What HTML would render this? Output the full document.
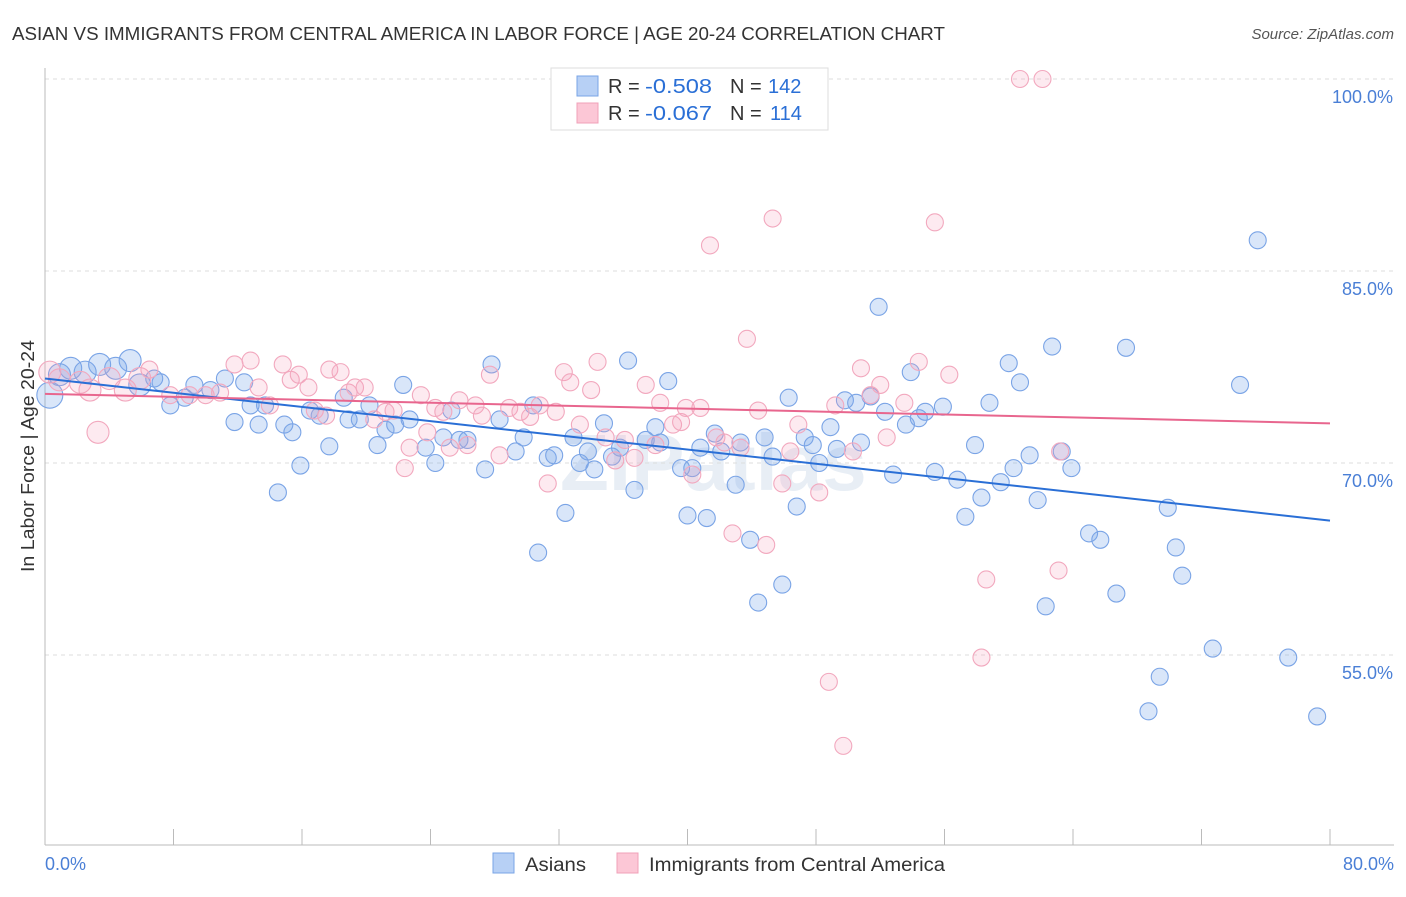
<!DOCTYPE html>
<html><head><meta charset="utf-8"><style>
body{margin:0;background:#fff;font-family:"Liberation Sans",sans-serif;}
svg text{font-family:"Liberation Sans",sans-serif;}
</style></head><body>
<svg id="chart" width="1406" height="892">
<text x="12" y="40" font-size="18" fill="#333" textLength="933" lengthAdjust="spacingAndGlyphs">ASIAN VS IMMIGRANTS FROM CENTRAL AMERICA IN LABOR FORCE | AGE 20-24 CORRELATION CHART</text>
<text x="1394" y="39" font-size="15" fill="#555" font-style="italic" text-anchor="end">Source: ZipAtlas.com</text>
<text x="560" y="490" font-size="80" fill="#e8eef5" font-weight="bold">ZIPatlas</text>
<g id="grid"></g><g id="pts"></g><g id="trends"></g>
<text transform="translate(34,456) rotate(-90)" font-size="18" fill="#333" text-anchor="middle" textLength="232" lengthAdjust="spacingAndGlyphs">In Labor Force | Age 20-24</text>
<g>
<rect x="551" y="68" width="277" height="62" fill="#fff" stroke="#ddd"/>
<rect x="577" y="76" width="21" height="20" fill="#b7d0f5" stroke="#7aa4e6"/>
<rect x="577" y="103" width="21" height="20" fill="#fcc7d6" stroke="#f0a0b8"/>
<text x="608" y="93" font-size="20" fill="#333">R =</text>
<text x="645" y="93" font-size="20" fill="#2a6fd6" textLength="67" lengthAdjust="spacingAndGlyphs">-0.508</text>
<text x="730" y="93" font-size="20" fill="#333">N =</text>
<text x="768" y="93" font-size="20" fill="#2a6fd6">142</text>
<text x="608" y="120" font-size="20" fill="#333">R =</text>
<text x="645" y="120" font-size="20" fill="#2a6fd6" textLength="67" lengthAdjust="spacingAndGlyphs">-0.067</text>
<text x="730" y="120" font-size="20" fill="#333">N =</text>
<text x="770" y="120" font-size="20" fill="#2a6fd6">114</text>
</g>
<g>
<rect x="493" y="853" width="21" height="20" fill="#b7d0f5" stroke="#7aa4e6"/>
<text x="525" y="871" font-size="19" fill="#333" textLength="61" lengthAdjust="spacingAndGlyphs">Asians</text>
<rect x="617" y="853" width="21" height="20" fill="#fcc7d6" stroke="#f0a0b8"/>
<text x="649" y="871" font-size="19" fill="#333" textLength="296" lengthAdjust="spacingAndGlyphs">Immigrants from Central America</text>
</g>
</svg>
<script>
const xTicks=[0,10,20,30,40,50,60,70,80];
const yTicks=[55,70,85,100];
const yTickLabels=["55.0%","70.0%","85.0%","100.0%"];
const asiansX=[0.3,1.6,0.9,2.5,3.4,5.3,4.4,6.8,7.2,5.9,7.8,8.7,9.3,10.3,11.2,11.8,12.4,12.8,13.3,13.7,14.9,15.4,15.9,14.5,16.5,17.1,17.7,18.6,18.9,19.6,20.2,20.7,21.2,21.8,22.3,22.7,23.7,24.3,24.8,25.3,25.8,26.3,27.4,27.8,28.3,29.3,29.8,30.4,30.7,31.3,31.7,32.4,32.9,33.3,33.8,34.2,34.8,35.3,35.8,36.3,36.7,37.4,38.0,38.3,38.8,39.6,40.0,40.3,40.8,41.2,41.7,42.1,43.0,43.3,43.9,44.4,44.8,45.3,45.9,46.3,46.8,47.3,47.8,48.2,48.9,49.3,49.8,50.5,50.8,51.4,51.9,52.3,52.8,53.6,53.9,54.4,54.8,55.4,55.9,56.8,57.3,57.9,58.3,58.8,59.5,60.0,60.3,60.7,61.3,61.8,62.3,62.7,63.3,63.9,65.0,65.7,66.7,67.3,68.7,69.4,69.9,70.4,70.8,72.7,74.4,75.5,77.4,79.2];
const asiansY=[75.3,77.4,76.9,77.1,77.7,78.0,77.4,76.6,76.3,76.1,74.5,75.1,76.1,75.7,76.6,73.2,76.3,74.5,73.0,74.5,73.0,72.4,69.8,67.7,74.1,73.7,71.3,75.1,73.4,73.4,74.5,71.4,72.6,73.0,76.1,73.4,71.2,70.0,72.0,74.1,71.8,71.8,69.5,77.7,73.4,70.9,72.0,74.5,63.0,70.4,70.6,66.1,72.0,70.0,70.9,69.5,73.1,70.5,71.2,78.0,67.9,71.8,72.8,71.6,76.4,69.6,65.9,69.6,71.2,65.7,72.3,70.9,68.3,71.6,64.0,59.1,72.0,70.5,60.5,75.1,66.6,72.0,71.4,70.0,72.8,71.1,74.9,74.7,71.6,75.2,82.2,74.0,69.1,73.0,77.1,73.5,74.0,69.3,74.4,68.7,65.8,71.4,67.3,74.7,68.5,77.8,69.6,76.3,70.6,67.1,58.8,79.1,70.9,69.6,64.5,64.0,59.8,79.0,50.6,53.3,66.5,63.4,61.2,55.5,76.1,87.4,54.8,50.2];
const immX=[0.3,0.9,2.2,2.8,3.3,4.0,5.0,5.9,6.5,7.8,9.0,10.0,10.9,11.8,12.8,13.3,14.0,14.8,15.3,15.8,16.4,16.8,17.5,17.7,18.4,18.9,19.3,19.9,20.5,21.2,21.7,22.4,22.7,23.4,23.8,24.3,24.8,25.2,25.8,26.3,26.8,27.2,27.7,28.3,28.9,29.6,30.2,30.8,31.3,31.8,32.3,32.7,33.3,34.0,34.4,34.9,35.5,36.1,36.7,37.4,38.0,38.3,39.1,39.6,39.9,40.3,40.8,41.4,41.8,42.3,42.8,43.3,43.7,44.4,44.9,45.3,45.9,46.4,46.9,47.5,47.9,48.2,48.8,49.2,49.7,50.3,50.8,51.4,52.0,52.4,53.5,54.4,55.4,56.3,58.3,58.6,60.7,62.1,63.1,63.2];
const immY=[77.1,76.5,76.3,75.7,72.4,76.6,75.7,76.6,77.3,75.3,75.3,75.3,75.5,77.7,78.0,75.9,74.5,77.7,76.5,76.9,75.9,74.1,73.7,77.3,77.1,75.5,75.9,75.9,73.4,74.0,74.1,69.6,71.2,75.3,72.4,74.3,74.0,71.2,74.9,71.4,74.5,73.7,76.9,70.6,74.3,74.0,73.6,74.5,68.4,74.0,77.1,76.3,73.0,75.7,77.9,72.0,70.2,71.8,70.4,76.1,71.4,74.7,73.0,73.2,74.3,69.1,74.3,87.0,72.0,71.6,64.5,71.2,79.7,74.1,63.6,89.1,68.4,70.9,73.0,100,100,67.7,52.9,74.5,47.9,70.9,77.4,75.3,76.1,72.0,74.7,77.9,88.8,76.9,54.8,60.9,100,100,61.6,70.9];
const trendAsians=[76.6,65.5];
const trendImm=[75.4,73.1];
const NS="http://www.w3.org/2000/svg";
const X=v=>45+v/80*1285, Y=v=>79+(100-v)*12.8;
function mk(p,t,a){const e=document.createElementNS(NS,t);for(const k in a)e.setAttribute(k,a[k]);p.appendChild(e);return e;}
const g=document.getElementById('grid');
yTicks.forEach((t,i)=>{const l=mk(g,'line',{x1:45,x2:1394,y1:Y(t),y2:Y(t),stroke:'#ddd','stroke-dasharray':'4,4'});


const tx=mk(g,'text',{x:1393,y:Y(t)+24,'font-size':18,fill:'#4a7fd6','text-anchor':'end'});tx.textContent=yTickLabels[i];

});
mk(g,'line',{x1:45,x2:45,y1:68,y2:845,stroke:'#bbb'});
mk(g,'line',{x1:45,x2:1394,y1:845,y2:845,stroke:'#bbb'});
for(let i=0;i<=10;i++){const x=X(i*8);mk(g,'line',{x1:x,x2:x,y1:829,y2:845,stroke:'#bbb'});}
const t0=mk(g,'text',{x:45,y:870,'font-size':18,fill:'#4a7fd6'});t0.textContent='0.0%';


const t1=mk(g,'text',{x:1394,y:870,'font-size':18,fill:'#4a7fd6','text-anchor':'end'});t1.textContent='80.0%';


const p=document.getElementById('pts');
asiansX.forEach((v,i)=>{const c=mk(p,'circle',{cx:X(v),cy:Y(asiansY[i]),r:i==0?13:(v<6?11:8.5),fill:'rgba(120,165,235,0.28)',stroke:'#7aa4e6','stroke-width':1.1});

});
immX.forEach((v,i)=>{const c=mk(p,'circle',{cx:X(v),cy:Y(immY[i]),r:v<6?11:8.5,fill:'rgba(245,160,185,0.22)',stroke:'#f2a8be','stroke-width':1.1});

});
const tr=document.getElementById('trends');
const la=mk(tr,'line',{x1:X(0),x2:X(80),y1:Y(trendAsians[0]),y2:Y(trendAsians[1]),stroke:'#2a6fd6','stroke-width':2});


const lb=mk(tr,'line',{x1:X(0),x2:X(80),y1:Y(trendImm[0]),y2:Y(trendImm[1]),stroke:'#e8668e','stroke-width':2});


</script>
</body></html>
